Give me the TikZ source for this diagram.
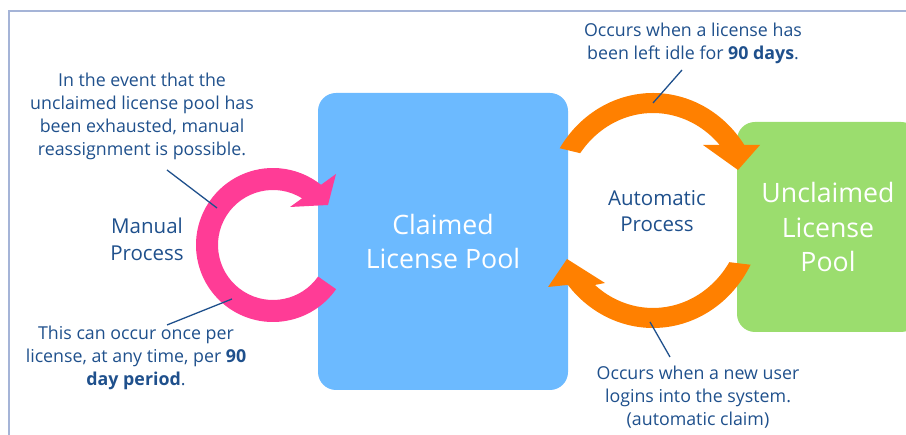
\documentclass[tikz,border=0pt]{standalone}
\usepackage{fontspec}
\setmainfont{Open Sans}
\usetikzlibrary{positioning,calc}
\definecolor{txtblue}{RGB}{31,80,140}
\definecolor{framecol}{RGB}{165,180,215}
\definecolor{claimblue}{RGB}{108,186,255}
\definecolor{freegreen}{RGB}{155,221,110}
\definecolor{manualpink}{RGB}{255,60,150}
\definecolor{autoorange}{RGB}{255,128,0}

\begin{document}
\begin{tikzpicture}[x=1pt,y=1pt,
  note/.style={text=txtblue, font=\fontsize{17.8}{23}\selectfont, align=center},
  proc/.style={text=txtblue, font=\fontsize{20.5}{26.5}\selectfont, align=center},
  pool/.style={rounded corners=18pt, text=white, font=\fontsize{26.7}{34.5}\selectfont, align=center},
  leader/.style={draw=txtblue, line width=1.3pt}]
    \useasboundingbox (0,0) rectangle (906,435);
    \draw[framecol, line width=1.5pt] (9,-5) -- (9,424) -- (911,424);
    %
    \node[pool, fill=claimblue, minimum width=250pt, minimum height=297pt] (claimed) at (443,193.5) {Claimed\\License Pool};
    \node[pool, fill=freegreen, minimum width=182pt, minimum height=210pt] (unclaimed) at (828,208) {Unclaimed\\License\\Pool};
    %
    \coordinate (pinkC) at (273,190);
    \coordinate (autoC) at (653,224.5);
    \fill[manualpink] ($(pinkC)+(-35:77pt)$) arc[start angle=-35, end angle=-308.6, radius=77pt]
      -- (336,261) -- (328,230) -- (290,228) -- ($(pinkC)+(58.1:55pt)$)
      arc[start angle=-301.9, end angle=-35, radius=55pt] -- cycle;
    \fill[autoorange] ($(autoC)+(148:110pt and 117.5pt)$) arc[start angle=148, end angle=33.9, x radius=110pt, y radius=117.5pt]
      -- (760,290) -- (738,265) -- (703,290) -- ($(autoC)+(42.2:90pt and 97.5pt)$)
      arc[start angle=42.2, end angle=144, x radius=90pt, y radius=97.5pt] -- cycle;
    \fill[autoorange] ($(autoC)+(-27.5:110pt and 117.5pt)$) arc[start angle=-27.5, end angle=-140.7, x radius=110pt, y radius=117.5pt]
      -- (548,148) -- (567,176) -- (605,152) -- ($(autoC)+(-130.2:90pt and 97.5pt)$)
      arc[start angle=-130.2, end angle=-32, x radius=90pt, y radius=97.5pt] -- cycle;
    %
    \node[note] (exhausted) at (142,318.5) {In the event that the\\unclaimed license pool has\\been exhausted, manual\\reassignment is possible.};
    \node[proc] (manual) at (147,195.5) {Manual\\Process};
    \node[note] (onceper) at (136,77) {This can occur once per\\license, at any time, per \textbf{90}\\\textbf{day period}.};
    \node[note] (idle) at (693,391.5) {Occurs when a license has\\been left idle for \textbf{90 days}.};
    \node[proc] (automatic) at (657,224) {Automatic\\Process};
    \node[note] (login) at (698,37.5) {Occurs when a new user\\logins into the system.\\(automatic claim)};
    %
    \coordinate (exhausted_a) at (167,265);
    \coordinate (exhausted_b) at (217,227);
    \coordinate (onceper_a) at (167,110);
    \coordinate (onceper_b) at (232,136);
    \coordinate (idle_a) at (682,365);
    \coordinate (idle_b) at (653,332);
    \coordinate (login_a) at (670,78);
    \coordinate (login_b) at (650,113);
    \draw[leader] (exhausted_a) -- (exhausted_b);
    \draw[leader] (onceper_a) -- (onceper_b);
    \draw[leader] (idle_a) -- (idle_b);
    \draw[leader] (login_a) -- (login_b);
\end{tikzpicture}
\end{document}
